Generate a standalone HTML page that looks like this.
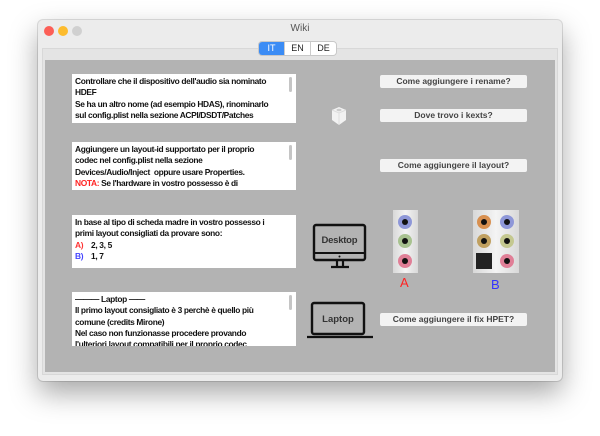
<!DOCTYPE html>
<html><head><meta charset="utf-8"><style>
*{margin:0;padding:0;box-sizing:border-box}
body{width:600px;height:436px;background:#fff;position:relative;overflow:hidden;font-family:"Liberation Sans",sans-serif}
.win{position:absolute;left:38px;top:20px;width:524px;height:361px;background:#ececec;border-radius:5px;box-shadow:0 12px 28px rgba(0,0,0,.35),0 0 0 1px rgba(0,0,0,.12)}
.title{position:absolute;left:0;right:0;top:0;height:22px;text-align:center;font-size:10px;color:#555;line-height:18px}
.dot{position:absolute;top:6px;width:10px;height:10px;border-radius:50%}
.gray{position:absolute;left:45px;top:60px;width:510px;height:312px;background:#b3b3b3}
.frame{position:absolute;left:42px;top:48px;width:516px;height:327px;background:#e4e4e4;border:1px solid #d8d8d8}
.tabs{position:absolute;left:259px;top:42px;height:13px;display:flex;font-size:9px;border-radius:3px;overflow:hidden;box-shadow:0 0 0 1px #c8c8c8}
.tabs div{width:26px;text-align:center;line-height:13px;background:#fff;color:#222;border-left:1px solid #ccc}
.tabs div:first-child{background:#3b8cf5;color:#fff;border:none;width:25px}
.box{position:absolute;left:72px;width:224px;background:#fff;font-size:8.4px;font-weight:bold;line-height:11.3px;padding:2px 12px 0 3px;overflow:hidden;color:#111;letter-spacing:-0.35px;white-space:nowrap}
.sb{position:absolute;right:4px;top:3px;width:3px;height:15px;background:#c5c5c5;border-radius:2px}
.btn{position:absolute;left:380px;width:147px;height:13px;background:#f3f3f3;border-radius:2px;font-size:8.5px;font-weight:bold;color:#444;text-align:center;line-height:13px}
.panel{position:absolute;top:210px;height:63px;background:linear-gradient(90deg,#d8d8d8,#f4f4f4,#d8d8d8)}
.j{position:absolute;width:14px;height:14px;border-radius:50%}
.j::after{content:"";position:absolute;left:4px;top:4px;width:6px;height:6px;border-radius:50%;background:#111}
</style></head><body>
<div class="win">
<div class="title">Wiki</div>
<div class="dot" style="left:6px;background:#fc5f57"></div>
<div class="dot" style="left:20px;background:#fdbc2e"></div>
<div class="dot" style="left:34px;background:#d0d0d0"></div>
</div>
<div class="frame"></div>
<div class="gray"></div>
<div class="tabs"><div>IT</div><div>EN</div><div>DE</div></div>

<div class="box" style="top:74px;height:49px">Controllare che il dispositivo dell'audio sia nominato<br>HDEF<br>Se ha un altro nome (ad esempio HDAS), rinominarlo<br>sul config.plist nella sezione ACPI/DSDT/Patches<div class="sb"></div></div>
<div class="box" style="top:142px;height:48px">Aggiungere un layout-id supportato per il proprio<br>codec nel config.plist nella sezione<br>Devices/Audio/Inject &nbsp;oppure usare Properties.<br><span style="color:#f22">NOTA:</span> Se l'hardware in vostro possesso è di<div class="sb"></div></div>
<div class="box" style="top:215px;height:53px">In base al tipo di scheda madre in vostro possesso i<br>primi layout consigliati da provare sono:<br><span style="color:#f33">A)</span>&nbsp;&nbsp;&nbsp; 2, 3, 5<br><span style="color:#44f">B)</span>&nbsp;&nbsp;&nbsp; 1, 7</div>
<div class="box" style="top:292px;height:54px">——— Laptop ——<br>Il primo layout consigliato è 3 perchè è quello più<br>comune (credits Mirone)<br>Nel caso non funzionasse procedere provando<br>l'ulteriori layout compatibili per il proprio codec<div class="sb"></div></div>

<div class="btn" style="top:75px">Come aggiungere i rename?</div>
<div class="btn" style="top:109px">Dove trovo i kexts?</div>
<div class="btn" style="top:159px">Come aggiungere il layout?</div>
<div class="btn" style="top:313px">Come aggiungere il fix HPET?</div>

<svg style="position:absolute;left:329px;top:105px" width="20" height="22" viewBox="0 0 20 22"><path d="M3 5 L10 2 L17 5 L17 15 L10 20 L3 15Z" fill="#f2f2f2"/><path d="M3 5 L10 8 L17 5 M10 8 L10 20" stroke="#ddd" fill="none"/><ellipse cx="10" cy="5" rx="2.5" ry="1.2" fill="#ccc"/></svg>

<svg style="position:absolute;left:312px;top:223px" width="56" height="48" viewBox="0 0 56 48">
<rect x="2" y="2" width="51" height="35" rx="2" fill="none" stroke="#111" stroke-width="2.4"/>
<line x1="2" y1="30" x2="53" y2="30" stroke="#111" stroke-width="2"/>
<circle cx="27.5" cy="33.5" r="1" fill="#111"/>
<path d="M25 37 L25 43 M31 37 L31 43 M19 44 L37 44" stroke="#111" stroke-width="2.2"/>
<text x="27.5" y="20" text-anchor="middle" font-size="9.5" font-weight="bold" font-family="Liberation Sans" fill="#333" textLength="36">Desktop</text>
</svg>
<svg style="position:absolute;left:306px;top:301px" width="68" height="40" viewBox="0 0 68 40">
<rect x="6" y="2" width="52" height="31" rx="2" fill="none" stroke="#111" stroke-width="2.4"/>
<path d="M1 36 L67 36" stroke="#111" stroke-width="2.2"/>
<text x="32" y="21" text-anchor="middle" font-size="9.5" font-weight="bold" font-family="Liberation Sans" fill="#333">Laptop</text>
</svg>

<div class="panel" style="left:393px;width:25px">
<div class="j" style="left:5px;top:5px;background:#8e97d8"></div>
<div class="j" style="left:5px;top:24px;background:#a8c290"></div>
<div class="j" style="left:5px;top:44px;background:#e07f97"></div>
</div>
<div class="panel" style="left:473px;width:46px">
<div class="j" style="left:4px;top:5px;background:#d89050"></div>
<div class="j" style="left:27px;top:5px;background:#8e97d8"></div>
<div class="j" style="left:4px;top:24px;background:#c0a060"></div>
<div class="j" style="left:27px;top:24px;background:#c4c890"></div>
<div style="position:absolute;left:3px;top:43px;width:16px;height:16px;background:#222"></div>
<div class="j" style="left:27px;top:44px;background:#e07f97"></div>
</div>
<div style="position:absolute;left:400px;top:275px;color:#f22;font-size:13px">A</div>
<div style="position:absolute;left:491px;top:277px;color:#33f;font-size:13px">B</div>
</body></html>
